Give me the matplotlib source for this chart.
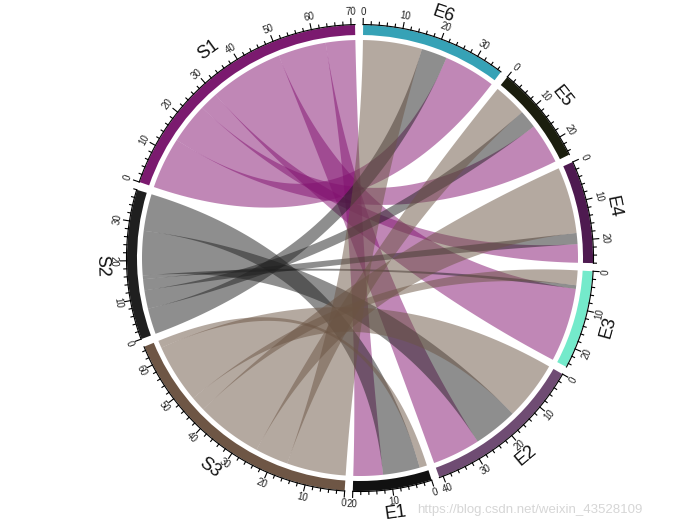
import numpy as np
import matplotlib.pyplot as plt
from matplotlib.patches import Wedge, Polygon

plt.rcParams['font.family'] = ['Liberation Sans', 'DejaVu Sans']

# flows from each source to E1..E6
sources = ['S1', 'S2', 'S3']
targets = ['E1', 'E2', 'E3', 'E4', 'E5', 'E6']
flow_S1 = [8, 13, 20, 5, 11, 14]
flow_S2 = [10, 12, 1, 3, 5, 7]
flow_S3 = [2, 16, 4, 18, 9, 16]

# clockwise order of sectors round the circle, starting at S1
sector_order = ['S1', 'E6', 'E5', 'E4', 'E3', 'E2', 'E1', 'S3', 'S2']

grid_col = {
    'S1': '#7b1a6f', 'S2': '#1f1f1f', 'S3': '#6e5645',
    'E1': '#111111', 'E2': '#6f4c73', 'E3': '#74eacb',
    'E4': '#4e1a50', 'E5': '#1b1e0e', 'E6': '#36a2b6',
}
link_col = {'S1': '#82106f', 'S2': '#1f1f1f', 'S3': '#6b5443'}

mat = np.array([flow_S1, flow_S2, flow_S3], dtype=float)
size = {s: mat[i].sum() for i, s in enumerate(sources)}
size.update({t: mat[:, j].sum() for j, t in enumerate(targets)})

start_deg = 161.0
gap = 2.0
total = sum(size.values())
d = (360 - gap * len(sector_order)) / total  # degrees per unit

start = {}
cur = start_deg
for s in sector_order:
    start[s] = cur
    cur -= size[s] * d + gap


def ang(sector, pos):
    return start[sector] - pos * d


def pt(theta, r):
    t = np.deg2rad(theta)
    return np.array([r * np.cos(t), r * np.sin(t)])


def rot(theta):
    t = theta % 360
    return t - 90 if t < 180 else t + 90


R_LINK = 218
R_IN, R_OUT = 223, 233

fig = plt.figure(figsize=(6.96, 5.29), dpi=100)
ax = fig.add_axes([0, 0, 1, 1])
ax.set_xlim(-360, 336)
ax.set_ylim(-271, 258)
ax.set_aspect('equal')
ax.axis('off')


def arc(a0, a1, r, n=60):
    th = np.deg2rad(np.linspace(a0, a1, n))
    return np.column_stack([r * np.cos(th), r * np.sin(th)])


def bez(p0, p2, n=60):
    t = np.linspace(0, 1, n)[:, None]
    return (1 - t) ** 2 * p0 + t ** 2 * p2


# links: source side ordered E6..E1 clockwise, target side ordered S3..S1
src_off = {s: 0.0 for s in sources}
tgt_off = {t: 0.0 for t in targets}
links = []
for i, s in enumerate(sources):
    for j in range(len(targets) - 1, -1, -1):
        v = mat[i, j]
        links.append((s, targets[j], src_off[s], v))
        src_off[s] += v
tgt_pos = {}
for t_idx, t in enumerate(targets):
    for i in range(len(sources) - 1, -1, -1):
        tgt_pos[(sources[i], t)] = tgt_off[t]
        tgt_off[t] += mat[i, t_idx]

for s, t, p0, v in links:
    if v <= 0:
        continue
    q0 = tgt_pos[(s, t)]
    a0, a1 = ang(s, p0), ang(s, p0 + v)
    b0, b1 = ang(t, q0), ang(t, q0 + v)
    verts = np.vstack([
        arc(a0, a1, R_LINK),
        bez(pt(a1, R_LINK), pt(b0, R_LINK)),
        arc(b0, b1, R_LINK),
        bez(pt(b1, R_LINK), pt(a0, R_LINK)),
    ])
    ax.add_patch(Polygon(verts, closed=True, facecolor=link_col[s], alpha=0.5,
                         edgecolor='none', lw=0))

# sector tracks, axes and labels
for s in sector_order:
    a_start = start[s]
    a_end = ang(s, size[s])
    ax.add_patch(Wedge((0, 0), R_OUT, a_end, a_start, width=R_OUT - R_IN,
                       facecolor=grid_col[s], edgecolor='none'))
    xy = arc(a_start, a_end, R_OUT + 0.5)
    ax.plot(xy[:, 0], xy[:, 1], color='black', lw=0.8)
    for p in range(0, int(size[s]) + 1, 2):
        th = ang(s, p)
        major = p % 10 == 0
        l = 6 if major else 3
        p1, p2 = pt(th, R_OUT + 0.5), pt(th, R_OUT + 0.5 + l)
        ax.plot([p1[0], p2[0]], [p1[1], p2[1]], color='black', lw=0.8)
        if major:
            x, y = pt(th, R_OUT + 13)
            ax.text(x, y, str(p), fontsize=7, rotation=rot(th),
                    rotation_mode='anchor', ha='center', va='center',
                    color='#222222')
    mid = ang(s, size[s] / 2)
    x, y = pt(mid, R_OUT + 25)
    ax.text(x, y, s, fontsize=13, rotation=rot(mid), rotation_mode='anchor',
            ha='center', va='center', color='#111111')

ax.text(57, -252, 'https://blog.csdn.net/weixin_43528109', fontsize=9.5,
        color='#d6d6d6', ha='left', va='center')

fig.savefig('out.png', dpi=100)
